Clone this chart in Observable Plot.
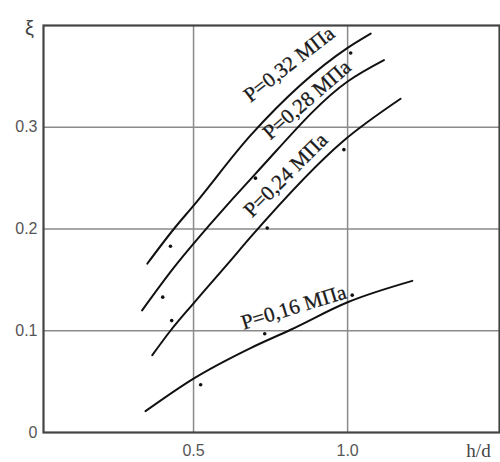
<!DOCTYPE html>
<html><head><meta charset="utf-8">
<script src="https://cdn.jsdelivr.net/npm/d3@7"></script>
<script src="https://cdn.jsdelivr.net/npm/@observablehq/plot@0.6"></script>
<style>body{margin:0;background:#fff}</style>
</head><body><div id="chart"></div>
<script>
// Curves (h/d -> ξ), one per pressure
const x032 = [0.350, 0.436, 0.500, 0.685, 1.000, 1.075];
const y032 = [0.166, 0.200, 0.223, 0.292, 0.378, 0.392];
const x028 = [0.333, 0.436, 0.555, 0.700, 1.000, 1.118];
const y028 = [0.120, 0.162, 0.205, 0.254, 0.345, 0.366];
const x024 = [0.366, 0.425, 0.500, 0.620, 0.685, 0.988, 1.172];
const y024 = [0.076, 0.100, 0.127, 0.169, 0.192, 0.287, 0.328];
const x016 = [0.344, 0.500, 0.685, 0.815, 1.000, 1.210];
const y016 = [0.021, 0.053, 0.083, 0.101, 0.128, 0.149];
// Experimental points
const ptX = [0.425, 0.400, 0.429, 0.523, 0.739, 0.988, 0.701, 1.010, 0.731, 1.015];
const ptY = [0.183, 0.133, 0.110, 0.047, 0.201, 0.278, 0.250, 0.373, 0.097, 0.135];
// Curve labels
const labText = ["P=0,32 МПа", "P=0,28 МПа", "P=0,24 МПа", "P=0,16 МПа"];
const labX = [0.810, 0.868, 0.799, 0.825];
const labY = [0.362, 0.327, 0.253, 0.123];
const labAngle = [-38, -41, -45, -17];
// Ticks
const xTicks = [0.5, 1.0];
const yTicks = [0, 0.1, 0.2, 0.3];

const curves = [[x032, y032], [x028, y028], [x024, y024], [x016, y016]]
  .map(([xs, ys], i) => xs.map((x, j) => ({x, y: ys[j], s: labText[i]})));
const points = ptX.map((x, i) => ({x, y: ptY[i]}));
const labels = labText.map((t, i) => ({t, x: labX[i], y: labY[i], a: labAngle[i]}));

const chart = Plot.plot({
  width: 500, height: 462,
  marginLeft: 43, marginRight: 1, marginTop: 25, marginBottom: 30,
  style: {fontFamily: "Liberation Sans, sans-serif", background: "#fff"},
  x: {domain: [0.013, 1.493], label: null},
  y: {domain: [0, 0.4], label: null},
  marks: [
    Plot.ruleX(xTicks, {stroke: "#8a8a8a", strokeWidth: 1.5}),
    Plot.ruleY(yTicks.filter(d => d > 0), {stroke: "#8a8a8a", strokeWidth: 1.5}),
    Plot.frame({stroke: "#444", strokeWidth: 2.2}),
    Plot.axisX({ticks: xTicks, tickFormat: d => d.toFixed(1), tickSize: 0, tickPadding: 12, fontSize: 16, fill: "#555", label: null}),
    Plot.axisY({ticks: yTicks, tickFormat: d => d === 0 ? "0" : d.toFixed(1), tickSize: 0, tickPadding: 6, fontSize: 16, fill: "#555", label: null}),
    ...curves.map(c => Plot.line(c, {x: "x", y: "y", curve: "monotone-x", stroke: "#111", strokeWidth: 2})),
    Plot.dot(points, {x: "x", y: "y", r: 1.8, fill: "#111", stroke: "none"}),
    Plot.text(labels, {x: "x", y: "y", text: "t", rotate: "a", fontSize: 21, fontFamily: "Liberation Serif, serif", fill: "#1a1a1a", stroke: "#1a1a1a", strokeWidth: 0.3, textAnchor: "middle", lineAnchor: "middle"}),
    Plot.text(["ξ"], {frameAnchor: "top-left", dx: -14, dy: 3, fontSize: 20, fill: "#444", textAnchor: "middle", lineAnchor: "middle"}),
    Plot.text(["h/d"], {frameAnchor: "bottom-right", dx: -21, dy: 18, fontSize: 19, fontFamily: "Liberation Serif, serif", fill: "#444", textAnchor: "middle", lineAnchor: "middle"})
  ]
});
document.getElementById("chart").appendChild(chart);
</script>
</body></html>
